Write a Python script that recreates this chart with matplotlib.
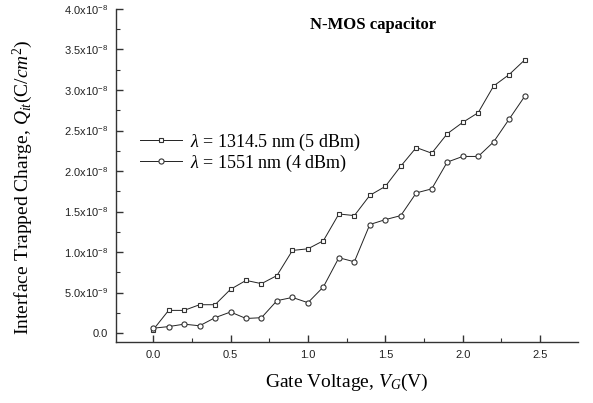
import matplotlib
matplotlib.use("Agg")
import matplotlib.pyplot as plt
from matplotlib.ticker import MultipleLocator, FuncFormatter

plt.rcParams['mathtext.fontset'] = 'custom'
plt.rcParams['mathtext.rm'] = 'Liberation Serif'
plt.rcParams['mathtext.it'] = 'Liberation Serif:italic'
plt.rcParams['mathtext.bf'] = 'Liberation Serif:bold'

gate_voltage = [0.0, 0.1, 0.2, 0.3, 0.4, 0.5, 0.6, 0.7, 0.8, 0.9, 1.0, 1.1, 1.2,
                1.3, 1.4, 1.5, 1.6, 1.7, 1.8, 1.9, 2.0, 2.1, 2.2, 2.3, 2.4]
q_1314 = [0.04, 0.28, 0.28, 0.35, 0.35, 0.54, 0.65, 0.61, 0.71, 1.02, 1.04, 1.14, 1.47,
          1.45, 1.70, 1.81, 2.06, 2.29, 2.22, 2.46, 2.60, 2.72, 3.05, 3.19, 3.37]
q_1551 = [0.06, 0.08, 0.11, 0.09, 0.19, 0.26, 0.18, 0.19, 0.40, 0.44, 0.375, 0.57, 0.93,
          0.88, 1.34, 1.40, 1.45, 1.73, 1.78, 2.11, 2.18, 2.18, 2.36, 2.64, 2.92]
scale = 1e-8
labels = [r'$\lambda$ = 1314.5 nm (5 dBm)', r'$\lambda$ = 1551 nm (4 dBm)']
title = 'N-MOS capacitor'

fig = plt.figure(figsize=(5.93, 4.03), dpi=100)
ax = fig.add_axes([0.1956, 0.1514, 0.7791, 0.8263])

ax.plot(gate_voltage, [v * scale for v in q_1314], color='#222222', lw=0.7,
        marker='s', ms=3.3, mfc='white', mec='#333333', mew=0.8, label=labels[0])
ax.plot(gate_voltage, [v * scale for v in q_1551], color='#222222', lw=0.7,
        marker='o', ms=3.7, mfc='white', mec='#333333', mew=0.8, label=labels[1])

ax.set_xlim(-0.24, 2.745)
ax.set_ylim(-1.1e-9, 4.0e-8)

for s in ['top', 'right']:
    ax.spines[s].set_visible(False)
for s in ['left', 'bottom']:
    ax.spines[s].set_linewidth(1.0)
    ax.spines[s].set_color('#333333')

ax.xaxis.set_major_locator(MultipleLocator(0.5))
ax.xaxis.set_minor_locator(MultipleLocator(0.25))
ax.yaxis.set_major_locator(MultipleLocator(0.5e-8))
ax.yaxis.set_minor_locator(MultipleLocator(0.25e-8))
ax.tick_params(which='both', direction='in', color='#333333')
ax.tick_params(which='major', length=5, width=1.0, labelsize=8, labelcolor='#222222', pad=6)
ax.tick_params(which='minor', length=3, width=0.8)

def yfmt(v, pos):
    if abs(v) < 1e-12:
        return '0.0'
    exp = 0
    m = v
    while abs(m) < 1:
        m *= 10
        exp -= 1
    return r'%.1fx10$^{\mathregular{%d}}$' % (m, exp)

ax.yaxis.set_major_formatter(FuncFormatter(yfmt))
ax.xaxis.set_major_formatter(FuncFormatter(lambda v, p: '%.1f' % v))
for lab in ax.get_xticklabels() + ax.get_yticklabels():
    lab.set_fontfamily('Liberation Sans')

ax.set_xlabel(r'Gate Voltage, $V_G$(V)', fontfamily='Liberation Serif', fontsize=14)
ax.xaxis.set_label_coords(0.5, -0.09)
ax.set_ylabel(r'Interface Trapped Charge, $Q_{it}$(C/$cm^2$)', fontfamily='Liberation Serif',
              fontsize=14)
ax.yaxis.set_label_coords(-0.175, 0.465)

ax.text(0.556, 0.952, title, transform=ax.transAxes, fontfamily='Liberation Serif',
        fontweight='bold', fontsize=12, ha='center', va='center')

leg = ax.legend(loc='center left', bbox_to_anchor=(0.052, 0.569), frameon=False,
                prop={'family': 'Liberation Serif', 'size': 13}, handlelength=2.3,
                handletextpad=0.45, labelspacing=0.0, borderaxespad=0, borderpad=0)

fig.savefig('out.png', dpi=100)
